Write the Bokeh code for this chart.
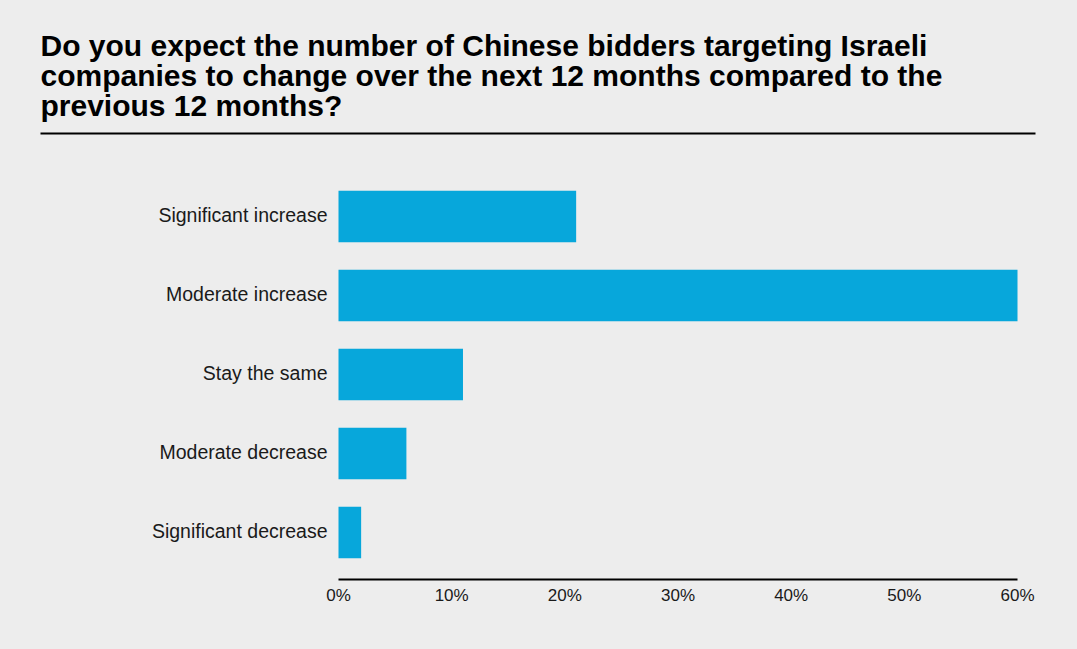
from bokeh.plotting import figure
from bokeh.models import Range1d, FixedTicker, Label, BoxAnnotation, ColumnDataSource
from bokeh.embed import file_html
from bokeh.resources import INLINE
from bokeh.core.properties import value

categories = ["Significant increase", "Moderate increase", "Stay the same",
              "Moderate decrease", "Significant decrease"]
values = [21, 60, 11, 6, 2]
x_ticks = [0, 10, 20, 30, 40, 50, 60]
x_tick_labels = ["0%", "10%", "20%", "30%", "40%", "50%", "60%"]
title_lines = ["Do you expect the number of Chinese bidders targeting Israeli",
               "companies to change over the next 12 months compared to the",
               "previous 12 months?"]

BG = "#EDEDED"
BAR = "#07A7DB"
TXT = "#1A1A1A"
W, H = 1077, 649

# layout (pixels)
X0_PX, X60_PX = 338, 1017          # where 0% and 60% fall
ROW_PX, FIRST_ROW_PX = 79, 216     # category spacing, centre of first row
AXIS_PX = 579                      # frame bottom / axis line
ppu = (X60_PX - X0_PX) / 60.0

n = len(categories)
ypos = [n - 1 - i for i in range(n)]
src = ColumnDataSource(dict(y=ypos, v=values, cat=categories, zero=[0] * n))

y_end = (n - 1) + FIRST_ROW_PX / ROW_PX
y_start = y_end - AXIS_PX / ROW_PX

p = figure(width=W, height=H,
           x_range=Range1d(-X0_PX / ppu, 60 + (W - X60_PX) / ppu),
           y_range=Range1d(y_start, y_end),
           output_backend="svg", toolbar_location=None, y_axis_location=None,
           min_border_left=0, min_border_right=0,
           min_border_top=0, min_border_bottom=H - AXIS_PX)
p.hbar(y="y", right="v", left=0, height=0.65, source=src,
       fill_color=BAR, line_color=None)

# category labels, right-aligned just left of the 0% baseline
p.text(x="zero", y="y", text="cat", source=src, x_offset=-11, y_offset=-2,
       text_align="right", text_baseline="middle",
       text_font=value("Liberation Sans"), text_font_size="19.5px", text_color=TXT)

p.background_fill_color = BG
p.border_fill_color = BG
p.outline_line_color = None
p.grid.visible = False

p.xaxis.bounds = (0, 60)
p.xaxis.ticker = FixedTicker(ticks=x_ticks)
p.xaxis.major_label_overrides = {t: l for t, l in zip(x_ticks, x_tick_labels)}
p.xaxis.axis_line_color = "#000000"
p.xaxis.axis_line_width = 2
p.xaxis.major_tick_line_color = None
p.xaxis.minor_tick_line_color = None
p.xaxis.major_label_text_font = "Liberation Sans"
p.xaxis.major_label_text_font_size = "17px"
p.xaxis.major_label_text_color = TXT
p.xaxis.major_label_standoff = 0

# header text (canvas units, y measured from top)
for i, t in enumerate(title_lines):
    p.add_layout(Label(x=40, y=45 + 30 * i, x_units="canvas", y_units="canvas",
                       text=t, text_font="Liberation Sans",
                       text_font_style="bold", text_font_size="30px",
                       text_color="#000000", text_baseline="alphabetic"))
p.add_layout(BoxAnnotation(left=40, right=1035, top=132, bottom=134,
                           left_units="canvas", right_units="canvas",
                           top_units="canvas", bottom_units="canvas",
                           fill_color="#000000", fill_alpha=1, line_color=None))

html = file_html(p, INLINE)
html = html.replace("</head>", "<style>body{background:%s;}</style></head>" % BG)
open("out.html", "w").write(html)
